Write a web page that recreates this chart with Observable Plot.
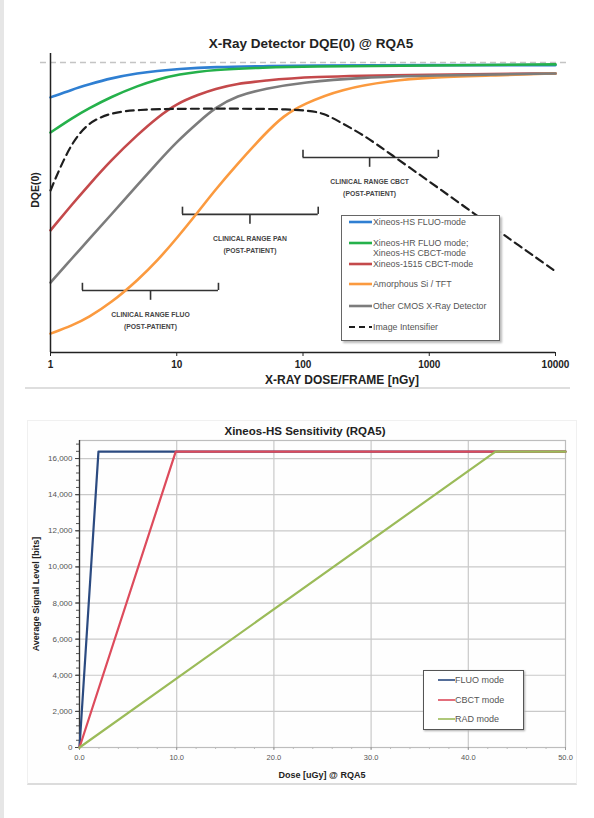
<!DOCTYPE html>
<html>
<head>
<meta charset="utf-8">
<script src="https://cdn.jsdelivr.net/npm/d3@7"></script>
<script src="https://cdn.jsdelivr.net/npm/@observablehq/plot@0.6"></script>
<style>
  html, body { margin: 0; padding: 0; background: #fff; }
  body { width: 594px; height: 818px; position: relative; overflow: hidden; font-family: "Liberation Sans", Arial, sans-serif; }
  .abs { position: absolute; }
  .c { transform: translate(-50%, -50%); white-space: nowrap; }
  .leg { position: absolute; background: #fff; }
  .leg .it { position: absolute; left: 0; white-space: nowrap; }
  .leg span { position: absolute; white-space: nowrap; }
</style>
</head>
<body>
<div class="abs" style="left:0;top:0;width:4px;height:818px;background:#e6e6e6"></div>
<div id="top" class="abs" style="left:0;top:0"></div>
<div class="abs" style="left:25px;top:387px;width:545px;height:2px;background:#dedede"></div>
<div class="abs" style="left:27px;top:420px;width:548px;height:362px;border:1px solid #f0f0f0;border-bottom:2px solid #dcdcdc;background:#fefefe"></div>
<div id="bot" class="abs" style="left:0;top:400px"></div>

<div class="abs c" style="left:311px;top:43px;font-size:13.5px;font-weight:bold;color:#222">X-Ray Detector DQE(0) @ RQA5</div>
<div class="abs c" style="left:342px;top:380px;font-size:12px;font-weight:bold;color:#222">X-RAY DOSE/FRAME [nGy]</div>
<div class="abs c" style="left:35px;top:190px;font-size:10.5px;font-weight:bold;color:#222;transform:translate(-50%,-50%) rotate(-90deg)">DQE(0)</div>

<div class="abs c" style="left:305px;top:431px;font-size:11.5px;font-weight:bold;color:#222">Xineos-HS Sensitivity (RQA5)</div>
<div class="abs c" style="left:322px;top:775px;font-size:9px;font-weight:bold;color:#222">Dose [uGy] @ RQA5</div>
<div class="abs c" style="left:36px;top:594px;font-size:9px;font-weight:bold;color:#222;transform:translate(-50%,-50%) rotate(-90deg)">Average Signal Level [bits]</div>

<div id="leg1" class="leg" style="left:341px;top:215px;width:157px;height:124px;border:1px solid #666;box-shadow:2px 2px 2px #bbb"></div>
<div id="leg2" class="leg" style="left:423px;top:670px;width:99px;height:58px;border:1px solid #555;box-shadow:1px 1px 2px #aaa"></div>

<script>
// ---------- Chart 1 : DQE(0) vs dose (nGy), log x ----------
const xTicks1 = [1, 10, 100, 1000, 10000];
const dqeMax = 0.8;

const doseHSFluo = [1, 1.5, 2, 3, 5, 7, 10, 20, 50, 100, 1000, 10000];
const dqeHSFluo  = [0.704, 0.726, 0.739, 0.757, 0.771, 0.777, 0.782, 0.788, 0.790, 0.792, 0.793, 0.793];

const doseHRFluo = [1, 1.5, 2, 3, 5, 7, 10, 20, 50, 100, 1000, 10000];
const dqeHRFluo  = [0.607, 0.648, 0.673, 0.705, 0.737, 0.753, 0.767, 0.781, 0.786, 0.789, 0.792, 0.795];

const dose1515 = [1, 1.5, 2, 3, 5, 7, 10, 15, 20, 30, 50, 100, 1000, 10000];
const dqe1515  = [0.337, 0.411, 0.461, 0.530, 0.604, 0.648, 0.687, 0.712, 0.727, 0.742, 0.750, 0.761, 0.767, 0.770];

const doseASi = [1, 1.5, 2, 3, 5, 7, 10, 15, 20, 30, 50, 70, 100, 200, 500, 1000, 3000, 10000];
const dqeASi  = [0.052, 0.075, 0.097, 0.136, 0.202, 0.253, 0.315, 0.391, 0.447, 0.519, 0.604, 0.653, 0.685, 0.727, 0.750, 0.759, 0.764, 0.770];

const doseCMOS = [1, 1.5, 2, 3, 5, 7, 10, 15, 20, 30, 50, 100, 300, 1000, 10000];
const dqeCMOS  = [0.193, 0.262, 0.311, 0.379, 0.466, 0.523, 0.582, 0.637, 0.675, 0.709, 0.728, 0.746, 0.759, 0.764, 0.770];

const doseII = [1, 1.2, 1.5, 2, 3, 5, 10, 100, 150, 200, 300, 500, 1000, 2000, 3000, 5000, 10000];
const dqeII  = [0.447, 0.513, 0.582, 0.635, 0.662, 0.670, 0.673, 0.673, 0.659, 0.634, 0.601, 0.546, 0.472, 0.397, 0.353, 0.298, 0.224];

const rangeNames = ["CLINICAL RANGE FLUO", "CLINICAL RANGE PAN", "CLINICAL RANGE CBCT"];
const rangeLo    = [1.79, 11.1, 100];
const rangeHi    = [21.4, 132, 1180];
const rangeMid   = [6.2, 38, 337];
const rangeLevel = [0.171, 0.381, 0.538];

const series1Names  = ["Xineos-HS FLUO-mode", "Xineos-HR FLUO mode;\nXineos-HS CBCT-mode", "Xineos-1515 CBCT-mode", "Amorphous Si / TFT", "Other CMOS X-Ray Detector", "Image Intensifier"];
const series1Colors = ["#2f7fd2", "#25b14b", "#c4494b", "#fb9a3f", "#7c7c7c", "#1e1e1e"];

const zip = (xs, ys) => xs.map((x, i) => ({x, y: ys[i]}));
const s1 = [
  zip(doseHSFluo, dqeHSFluo),
  zip(doseHRFluo, dqeHRFluo),
  zip(dose1515, dqe1515),
  zip(doseASi, dqeASi),
  zip(doseCMOS, dqeCMOS),
  zip(doseII, dqeII)
];
const ranges = rangeNames.map((n, i) => ({name: n, lo: rangeLo[i], hi: rangeHi[i], mid: rangeMid[i], level: rangeLevel[i]}));

const tickUp = 0.02, tickDown = 0.027;

const chart1 = Plot.plot({
  width: 594, height: 400,
  marginLeft: 50, marginRight: 39, marginTop: 53, marginBottom: 48,
  x: {type: "log", domain: [1, 10000]},
  y: {domain: [0, 0.825]},
  style: {fontFamily: "Liberation Sans, Arial, sans-serif", background: "transparent", color: "#222"},
  marks: [
    Plot.ruleY([dqeMax], {x1: 0.833, x2: 13150, stroke: "#c4c4c4", strokeWidth: 1.5, strokeDasharray: "6,4"}),
    // brackets
    Plot.ruleY(ranges, {y: "level", x1: "lo", x2: "hi", stroke: "#333", strokeWidth: 1.6}),
    Plot.ruleX(ranges, {x: "lo", y1: "level", y2: d => d.level + tickUp, stroke: "#333", strokeWidth: 1.6}),
    Plot.ruleX(ranges, {x: "hi", y1: "level", y2: d => d.level + tickUp, stroke: "#333", strokeWidth: 1.6}),
    Plot.ruleX(ranges, {x: "mid", y1: "level", y2: d => d.level - tickDown, stroke: "#333", strokeWidth: 1.6}),
    Plot.text(ranges, {x: "mid", y: "level", text: "name", dy: 24, fontSize: 6.8, fontWeight: "bold", fill: "#444"}),
    Plot.text(ranges, {x: "mid", y: "level", text: () => "(POST-PATIENT)", dy: 36, fontSize: 6.8, fontWeight: "bold", fill: "#444"}),
    // curves
    ...s1.slice(0, 5).map((d, i) => Plot.line(d, {x: "x", y: "y", stroke: series1Colors[i], strokeWidth: 2.6, curve: "basis"})),
    Plot.line(s1[5], {x: "x", y: "y", stroke: series1Colors[5], strokeWidth: 2.2, strokeDasharray: "8,5", curve: "basis"}),
    // axes
    Plot.ruleX([1], {stroke: "#222", strokeWidth: 1.5}),
    Plot.ruleY([0], {stroke: "#222", strokeWidth: 1.5}),
    Plot.axisX({ticks: xTicks1, tickFormat: d => String(d), tickSize: 4, tickPadding: 4, fontSize: 10, fontWeight: "bold", label: null, stroke: "#222"}),
    Plot.axisY({ticks: [], label: null})
  ]
});
document.getElementById("top").appendChild(chart1);

// ---------- Chart 2 : Sensitivity ----------
const xMajor2 = [0, 10, 20, 30, 40, 50];
const xMinor2 = d3.range(0, 50.001, 2);
const yMajor2 = [0, 2000, 4000, 6000, 8000, 10000, 12000, 14000, 16000];
const yMinor2 = d3.range(0, 17000, 400);

const series2Names  = ["FLUO mode", "CBCT mode", "RAD mode"];
const series2Colors = ["#2b4a80", "#dd4b5c", "#9bbb59"];
const doseFluo = [0, 1.95, 50];
const sigFluo  = [0, 16383, 16383];
const doseCbct = [0, 9.9, 50];
const sigCbct  = [0, 16383, 16383];
const doseRad  = [0, 42.8, 50];
const sigRad   = [0, 16383, 16383];

const s2 = [zip(doseFluo, sigFluo), zip(doseCbct, sigCbct), zip(doseRad, sigRad)];

const chart2 = Plot.plot({
  width: 594, height: 400,
  marginLeft: 79, marginRight: 29, marginTop: 40, marginBottom: 53,
  x: {domain: [0, 50]},
  y: {domain: [0, 17000]},
  style: {fontFamily: "Liberation Sans, Arial, sans-serif", background: "transparent", color: "#444"},
  marks: [
    Plot.ruleY(yMajor2.slice(1), {stroke: "#c9c9c9", strokeWidth: 1.2}),
    Plot.ruleX(xMajor2.slice(1, 5), {stroke: "#c9c9c9", strokeWidth: 1.2}),
    Plot.frame({stroke: "#bdbdbd", strokeWidth: 1.2}),
    Plot.axisX({ticks: xMinor2, tickSize: 2, tickFormat: () => "", stroke: "#bbb", label: null}),
    Plot.axisX({ticks: xMajor2, tickSize: 3, tickPadding: 4, tickFormat: d => d.toFixed(1), fontSize: 7.5, fill: "#555", stroke: "#999", label: null}),
    Plot.axisY({ticks: yMinor2, tickSize: 3, tickFormat: () => "", stroke: "#555", label: null}),
    Plot.axisY({ticks: yMajor2, tickSize: 4, tickPadding: 3, tickFormat: d3.format(","), fontSize: 8, fill: "#555", stroke: "#444", label: null}),
    Plot.ruleX([0], {stroke: "#333", strokeWidth: 1.3}),
    ...s2.map((d, i) => Plot.line(d, {x: "x", y: "y", stroke: series2Colors[i], strokeWidth: 2.2}))
  ]
});
document.getElementById("bot").appendChild(chart2);

// ---------- Legends ----------
function swatch(color, dash, w, sw) {
  return `<svg width="${w}" height="6" style="display:block"><line x1="0" x2="${w}" y1="3" y2="3" stroke="${color}" stroke-width="${sw}" ${dash ? `stroke-dasharray="${dash}"` : ""}/></svg>`;
}
const leg1 = document.getElementById("leg1");
const leg1Y = [6, 27, 48, 68, 90, 111];
series1Names.forEach((name, i) => {
  const it = document.createElement("div");
  it.className = "it";
  it.style.top = (leg1Y[i] - 3) + "px";
  const lines = name.split("\n");
  it.innerHTML = `<div style="position:absolute;left:7px;top:0">${swatch(series1Colors[i], i === 5 ? "6,4" : null, 23, i === 5 ? 2 : 2.6)}</div>` +
    lines.map((t, k) => `<span style="left:31px;top:${-3 + k * 10}px;font-size:8.8px;line-height:12px;color:#555">${t}</span>`).join("");
  leg1.appendChild(it);
});
const leg2 = document.getElementById("leg2");
const leg2Y = [9, 29, 48];
series2Names.forEach((name, i) => {
  const it = document.createElement("div");
  it.className = "it";
  it.style.top = (leg2Y[i] - 3) + "px";
  it.innerHTML = `<div style="position:absolute;left:14px;top:0">${swatch(series2Colors[i], null, 17, 1.6)}</div>` +
    `<span style="left:31px;top:-3px;font-size:9px;line-height:12px;color:#555">${name}</span>`;
  leg2.appendChild(it);
});
</script>
</body>
</html>
